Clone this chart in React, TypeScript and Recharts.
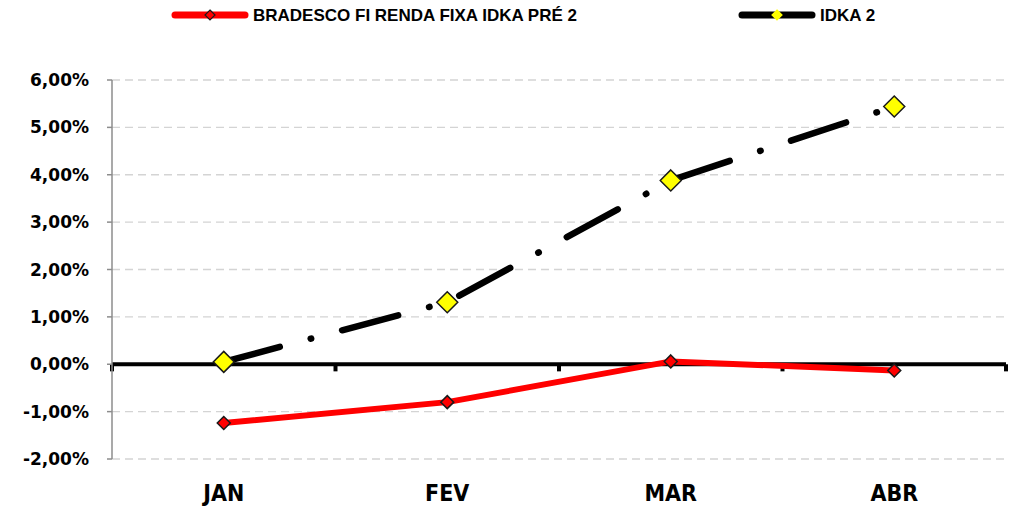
import { CartesianGrid, LineChart, Line, ReferenceLine, XAxis, YAxis } from "recharts"

// months on the category axis
const months = ["JAN", "FEV", "MAR", "ABR"]
const monthPos = [1, 2, 3, 4]
// return in % per month
const bradesco = [-1.24, -0.8, 0.06, -0.13]
const idka = [0.05, 1.31, 3.88, 5.44]
const yTicks = [-2, -1, 0, 1, 2, 3, 4, 5, 6]
// edges between months, where the zero line gets its small tick marks
const monthEdges = [0.5, 1.5, 2.5, 3.5, 4.5]

const seriesNames = ["BRADESCO FI RENDA FIXA IDKA PRÉ 2", "IDKA 2"]

const data = months.map((m, i) => ({
  pos: monthPos[i],
  month: m,
  bradesco: bradesco[i],
  idka: idka[i],
}))

const LEGEND_FONT = "'Liberation Sans', Arial, sans-serif"
const YFONT = "'DejaVu Sans', sans-serif"
const XFONT = "'Liberation Sans Narrow', 'DejaVu Sans Condensed', sans-serif"

const fmtPct = (v: number) => `${v.toFixed(2).replace(".", ",")}%`

function diamond(r: number, fill: string, sw: number) {
  return (props: any) => {
    const { cx, cy, index } = props
    if (cx == null || cy == null) return <g key={`d-${index}`} />
    return (
      <polygon
        key={`d-${index}`}
        points={`${cx},${cy - r} ${cx + r},${cy} ${cx},${cy + r} ${cx - r},${cy}`}
        fill={fill}
        stroke="#1a1a1a"
        strokeWidth={sw}
      />
    )
  }
}

function LegendItem({ x, color, marker, name, dash }: any) {
  return (
    <g>
      <line x1={x} y1={15} x2={x + 70} y2={15} stroke={color} strokeWidth={7} strokeLinecap="round" />
      <polygon
        points={`${x + 35},${15 - 5} ${x + 40},${15} ${x + 35},${15 + 5} ${x + 30},${15}`}
        fill={marker}
        stroke={dash ? marker : "#1a1a1a"}
        strokeWidth={1.2}
      />
      <text x={x + 78} y={21} fontFamily={LEGEND_FONT} fontWeight="bold" fontSize={17} fill="#000">
        {name}
      </text>
    </g>
  )
}

export default function App() {
  return (
    <div style={{ position: "absolute", left: 0, top: 0, width: 1016, height: 507, background: "#fff" }}>
      <svg width={1016} height={40} style={{ position: "absolute", left: 0, top: 0 }}>
        <LegendItem x={175} color="#ff0000" marker="#ff0000" name={seriesNames[0]} />
        <LegendItem x={742} color="#000000" marker="#ffff00" name={seriesNames[1]} dash />
      </svg>
      <LineChart
        width={1016}
        height={507}
        data={data}
        margin={{ top: 80, right: 10, bottom: 0, left: 0 }}
      >
        <CartesianGrid vertical={false} stroke="#d4d4d4" strokeDasharray="8 5" strokeWidth={1.3} />
        <XAxis
          dataKey="pos"
          type="number"
          domain={[0.5, 4.5]}
          ticks={monthPos}
          tickFormatter={(v: number) => months[v - 1]}
          axisLine={false}
          tickLine={false}
          tickSize={0}
          tickMargin={26}
          height={48}
          tick={{ fontFamily: XFONT, fontWeight: "bold", fontSize: 23, fill: "#000" }}
        />
        <YAxis
          type="number"
          domain={[-2, 6]}
          ticks={yTicks}
          interval={0}
          tickFormatter={fmtPct}
          width={112}
          axisLine={{ stroke: "#8c8c8c", strokeWidth: 1.5 }}
          tickLine={{ stroke: "#8c8c8c", strokeWidth: 1.5 }}
          tickSize={5}
          tickMargin={18}
          tick={{ fontFamily: YFONT, fontWeight: "bold", fontSize: 17, fill: "#000" }}
        />
        <ReferenceLine y={0} stroke="#000" strokeWidth={4} />
        {monthEdges.map((e) => (
          <ReferenceLine
            key={e}
            segment={[{ x: e, y: 0 }, { x: e, y: -0.15 }]}
            stroke="#000"
            strokeWidth={4}
            ifOverflow="visible"
          />
        ))}
        <Line
          dataKey="bradesco"
          name={seriesNames[0]}
          stroke="#ff0000"
          strokeWidth={6}
          dot={diamond(6.5, "#ff0000", 1.5)}
          isAnimationActive={false}
        />
        <Line
          dataKey="idka"
          name={seriesNames[1]}
          stroke="#000000"
          strokeWidth={6.5}
          strokeLinecap="round"
          strokeDasharray="58 32 0.5 32"
          dot={diamond(10.5, "#ffff00", 1.5)}
          isAnimationActive={false}
        />
      </LineChart>
    </div>
  )
}
